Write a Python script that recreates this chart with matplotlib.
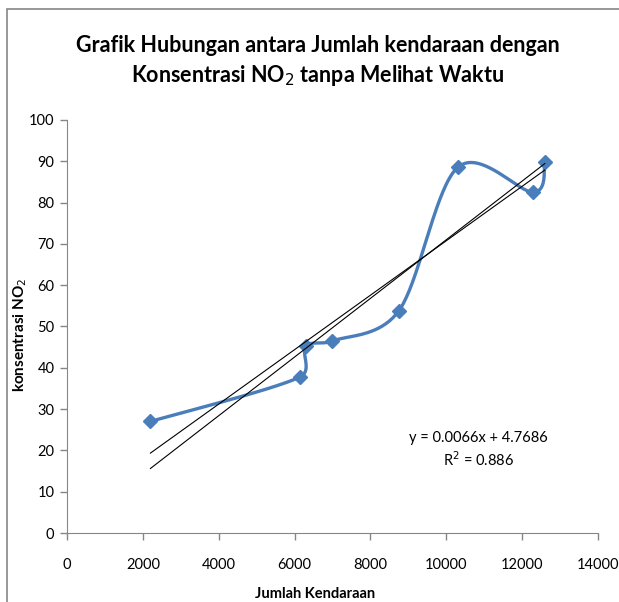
import numpy as np
import matplotlib.pyplot as plt
from matplotlib.patches import Rectangle

# data
jumlah_kendaraan = [2200, 6150, 6300, 7000, 8750, 10300, 12300, 12600]
konsentrasi_no2 = [27.0, 37.8, 45.2, 46.5, 53.8, 88.5, 82.5, 89.8]
x_ticks = [0, 2000, 4000, 6000, 8000, 10000, 12000, 14000]
y_ticks = [0, 10, 20, 30, 40, 50, 60, 70, 80, 90, 100]
equation = 'y = 0.0066x + 4.7686'
r_squared = 'R$^2$ = 0.886'

blue = '#4A7EBB'
grey = '#868686'
plt.rcParams['font.family'] = ['Lato', 'DejaVu Sans']


def excel_smooth(xs, ys, sx, sy, n=40):
    # catmull-rom style bezier (like Excel's smoothed line), done in pixel units
    p = np.column_stack([np.asarray(xs) * sx, np.asarray(ys) * sy]).astype(float)
    out = []
    for i in range(len(p) - 1):
        p0 = p[i - 1] if i > 0 else p[i]
        p3 = p[i + 2] if i + 2 < len(p) else p[i + 1]
        seg_len = np.hypot(*(p[i + 1] - p[i]))
        d1 = (p[i + 1] - p0) / 6
        d2 = (p3 - p[i]) / 6
        # keep handles short on tiny segments
        for d in (d1, d2):
            ln = np.hypot(*d)
            if ln > 0.45 * seg_len:
                d *= 0.45 * seg_len / ln
        c1 = p[i] + d1
        c2 = p[i + 1] - d2
        t = np.linspace(0, 1, n)[:, None]
        seg = ((1 - t) ** 3 * p[i] + 3 * (1 - t) ** 2 * t * c1
               + 3 * (1 - t) * t ** 2 * c2 + t ** 3 * p[i + 1])
        out.append(seg)
    out = np.vstack(out)
    return out[:, 0] / sx, out[:, 1] / sy


x = np.array(jumlah_kendaraan, dtype=float)
y = np.array(konsentrasi_no2, dtype=float)

fig = plt.figure(figsize=(6.19, 6.02), dpi=100)
ax = fig.add_axes([0.1082, 0.1146, 0.8578, 0.6861])

px_x = 0.8578 * 619 / 14000
px_y = 0.6861 * 602 / 100
cx, cy = excel_smooth(x, y, px_x, px_y)
ax.plot(cx, cy, color=blue, lw=2.4, solid_capstyle='round', zorder=3)
ax.plot(x, y, ls='none', marker='D', ms=7, color=blue, zorder=4)

# linear trendline and the one forced through zero
slope, icpt = np.polyfit(x, y, 1)
slope0 = np.sum(x * y) / np.sum(x * x)
xr = np.array([x.min(), x.max()])
ax.plot(xr, slope * xr + icpt, color='black', lw=0.8, zorder=5)
ax.plot(xr, slope0 * xr, color='black', lw=0.8, zorder=5)

ax.set_xlim(0, 14000)
ax.set_ylim(0, 100)
ax.set_xticks(x_ticks)
ax.set_yticks(y_ticks)
ax.tick_params(colors=grey, labelcolor='black', labelsize=10.5, length=5, width=1)
ax.tick_params(axis='x', pad=13)
ax.tick_params(axis='y', pad=4)
for s in ['top', 'right']:
    ax.spines[s].set_visible(False)
for s in ['left', 'bottom']:
    ax.spines[s].set_color(grey)

fig.text(318 / 619, 1 - 45 / 602, 'Grafik Hubungan antara Jumlah kendaraan dengan',
         ha='center', va='center', fontsize=15.5, fontweight='bold')
fig.text(318 / 619, 1 - 76 / 602, 'Konsentrasi NO$_2$ tanpa Melihat Waktu',
         ha='center', va='center', fontsize=15.5, fontweight='bold')
fig.text(315 / 619, 1 - 594 / 602, 'Jumlah Kendaraan',
         ha='center', va='center', fontsize=10.5, fontweight='bold')
fig.text(20 / 619, 1 - 335 / 602, 'konsentrasi NO$_2$', rotation=90,
         ha='center', va='center', fontsize=11, fontweight='bold')

fig.text(478 / 619, 1 - 438 / 602, equation, ha='center', va='center', fontsize=10.5)
fig.text(478 / 619, 1 - 460 / 602, r_squared, ha='center', va='center', fontsize=10.5)

fig.patches.append(Rectangle((7 / 619, -0.1), 1.2, 1 - 9 / 602 + 0.1,
                             transform=fig.transFigure, fill=False,
                             edgecolor=grey, lw=1.2))

fig.savefig('out.png', dpi=100)
